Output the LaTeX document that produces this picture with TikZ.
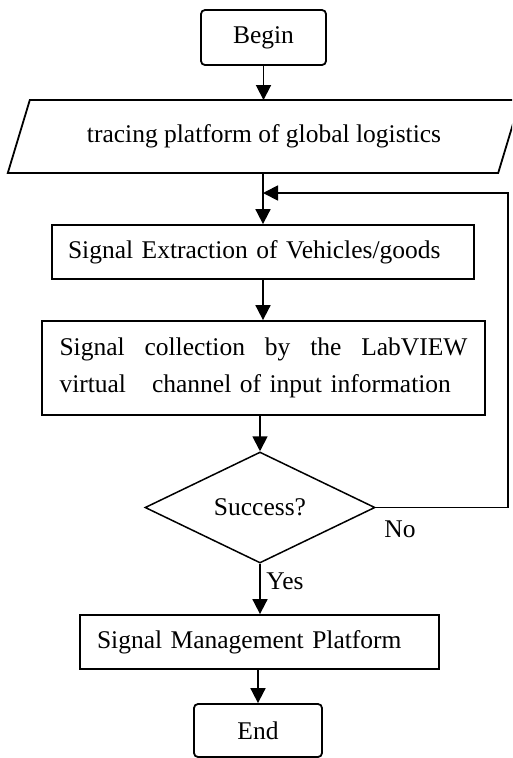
\documentclass[tikz,border=0pt]{standalone}
\usepackage{fontspec}
\setmainfont{Liberation Serif}
\usetikzlibrary{arrows.meta,shapes.geometric}
\begin{document}
\begin{tikzpicture}[x=1pt,y=-1pt,
  font=\fontsize{25.5}{37}\selectfont,
  line/.style={line width=1.8pt},
  arr/.style={line, -{Triangle[length=15pt,width=15pt]}},
  box/.style={draw, line width=1.8pt, rectangle, inner sep=0pt},
  term/.style={box, rounded corners=4pt},
]
\path[use as bounding box, clip] (0,0) rectangle (512,758);
\fill[white] (0,0) rectangle (512,758);

% terminals, process boxes and decision
\node[term, minimum width=125pt, minimum height=55pt] (begin) at (263.5,37.5) {Begin};
\node[minimum width=490pt, minimum height=72.5pt, inner sep=0pt] (para) at (264,136.5)
  {tracing platform of global logistics};
\draw[line] ([xshift=-11pt]para.south west) -- ([xshift=-11pt]para.south east)
  -- ([xshift=11pt]para.north east) -- ([xshift=11pt]para.north west) -- cycle;

\node[box, minimum width=422pt, minimum height=54pt, text width=390pt, align=left]
  (ext) at (263,252) {Signal Extraction of Vehicles/goods};
\node[box, minimum width=443pt, minimum height=94pt, text width=408pt, align=left]
  (col) at (263.5,368)
  {\makebox[408pt][s]{Signal\hfill collection\hfill by\hfill the\hfill LabVIEW}\\
   virtual\hspace{26pt}channel of input information};
\node[diamond, draw, line width=1.5pt, minimum width=230pt, minimum height=111pt,
  inner sep=0pt] (dia) at (260,507.5) {Success?};
\node[box, minimum width=359pt, minimum height=54pt, text width=325pt, align=left]
  (mgmt) at (259.5,642) {Signal Management Platform};
\node[term, minimum width=128pt, minimum height=53pt] (fin) at (258,730.5) {End};

% branch labels
\node (no) at (400,529) {No};
\node (yes) at (285,581) {Yes};

% connectors
\draw[arr] (begin.south) -- (begin.south |- para.north);
\draw[arr] (ext.north |- para.south) -- (ext.north);
\draw[arr] (ext.south) -- (ext.south |- col.north);
\draw[arr] (dia.north |- col.south) -- (dia.north);
\draw[arr] (dia.south) -- (dia.south |- mgmt.north);
\draw[arr] (fin.north |- mgmt.south) -- (fin.north);

% retry loop back above the extraction step
\coordinate (jn) at (263,193);
\coordinate (rt) at (508,193);
\draw[arr] (dia.east) -| (rt) -- (jn);
\end{tikzpicture}
\end{document}
